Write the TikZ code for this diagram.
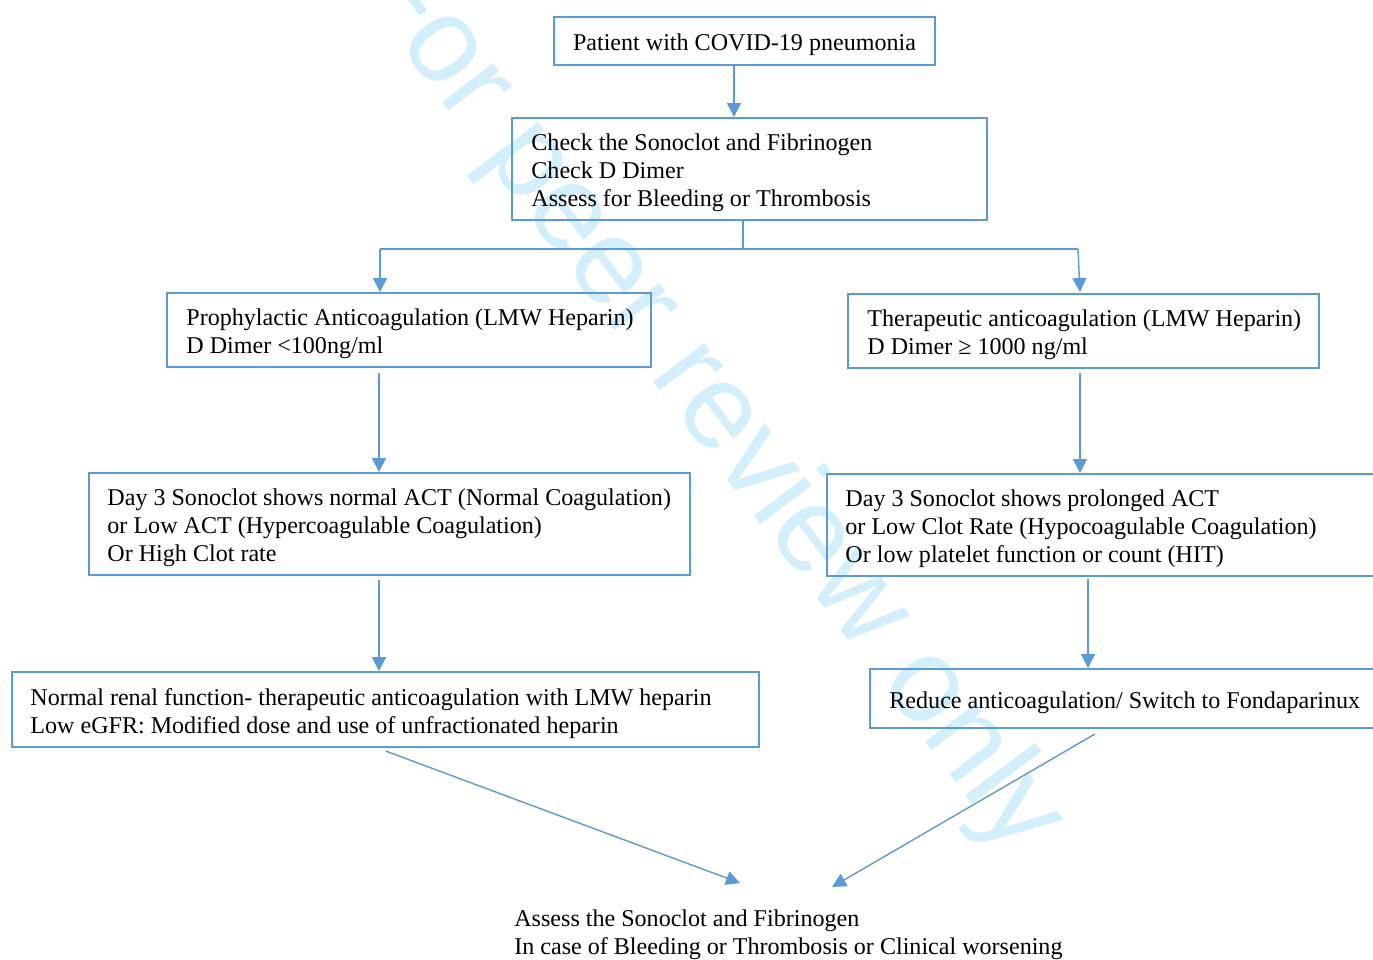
\documentclass[tikz,border=0pt]{standalone}
\usepackage{fontspec}
\setmainfont{Liberation Serif}
\newfontfamily\wmfont{Liberation Sans}
\usetikzlibrary{arrows.meta, positioning}
\definecolor{fblue}{HTML}{5B9BD5}
\definecolor{fwater}{HTML}{D3EFFB}
\tikzset{
  box/.style={rectangle, draw=fblue, line width=1.1pt},
  txt/.style={anchor=west, inner sep=0pt, align=left, text=black, yshift=-0.08cm,
              font=\fontsize{13.7}{15.9}\selectfont},
  flow/.style={-{Triangle[length=0.28cm, width=0.28cm]}, draw=fblue, line width=0.8pt},
  link/.style={draw=fblue, line width=0.8pt},
  wmark/.style={text=fwater, font=\wmfont\fontsize{69}{80}\selectfont, rotate=-53}
}

\begin{document}
\begin{tikzpicture}[x=0.02cm, y=-0.02cm]
  \useasboundingbox (0,0) rectangle (1373,960);
  \clip (0,0) rectangle (1373,960);
  \node[wmark] (wm) at (708,402) {For peer review only};

  \node[box, minimum width=7.62cm, minimum height=0.96cm] (pat) at (744.5,41) {};
  \node[box, minimum width=9.5cm, minimum height=2.04cm] (chk) at (749.5,169) {};
  \node[box, minimum width=9.68cm, minimum height=1.48cm] (pro) at (409,330) {};
  \node[box, minimum width=9.42cm, minimum height=1.48cm] (ther) at (1083.5,331) {};
  \node[box, minimum width=12.02cm, minimum height=2.04cm] (d3l) at (389.5,524) {};
  \node[box, minimum width=11.16cm, minimum height=2.04cm] (d3r) at (1106,525) {};
  \node[box, minimum width=14.94cm, minimum height=1.5cm] (norm) at (385.5,709.5) {};
  \node[box, minimum width=10.3cm, minimum height=1.18cm] (red) at (1127.5,698.5) {};

  \node[txt, anchor=center] (pat-t) at (pat.center) {Patient with COVID-19 pneumonia};
  \node[txt, right=0.4cm of chk.west] (chk-t) {Check the Sonoclot and Fibrinogen\\Check D Dimer\\Assess for Bleeding or Thrombosis};
  \node[txt, right=0.4cm of pro.west] (pro-t) {Prophylactic Anticoagulation (LMW Heparin)\\D Dimer <100ng/ml};
  \node[txt, right=0.4cm of ther.west] (ther-t) {Therapeutic anticoagulation (LMW Heparin)\\D Dimer ≥ 1000 ng/ml};
  \node[txt, right=0.38cm of d3l.west] (d3l-t) {Day 3 Sonoclot shows normal ACT (Normal Coagulation)\\or Low ACT (Hypercoagulable Coagulation)\\Or High Clot rate};
  \node[txt, right=0.38cm of d3r.west] (d3r-t) {Day 3 Sonoclot shows prolonged ACT\\or Low Clot Rate (Hypocoagulable Coagulation)\\Or low platelet function or count (HIT)};
  \node[txt, right=0.38cm of norm.west] (norm-t) {Normal renal function- therapeutic anticoagulation with LMW heparin\\Low eGFR: Modified dose and use of unfractionated heparin};
  \node[txt, right=0.4cm of red.west] (red-t) {Reduce anticoagulation/ Switch to Fondaparinux};
  \node[txt] (ass) at (514,931) {Assess the Sonoclot and Fibrinogen\\In case of Bleeding or Thrombosis or Clinical worsening};

  \coordinate (split) at (743,249);
  \coordinate (sl) at (380,249);
  \coordinate (sr) at (1078,249);
  \coordinate (a1) at (740,883);
  \coordinate (a2) at (832,887);

  \draw[flow] (pat.south -| 734,0) -- (chk.north -| 734,0);
  \draw[link] (chk.south -| split) -- (split);
  \draw[link] (sl) -- (sr);
  \draw[flow] (sl) -- (pro.north -| sl);
  \draw[flow] (sr) -- ([yshift=0.02cm]ther.north -| 1080,0);
  \draw[flow] ([yshift=-0.1cm]pro.south -| 379,0) -- (d3l.north -| 379,0);
  \draw[flow] ([yshift=-0.08cm]ther.south -| 1080,0) -- (d3r.north -| 1080,0);
  \draw[flow] ([yshift=-0.08cm]d3l.south -| 379,0) -- (norm.north -| 379,0);
  \draw[flow] ([yshift=-0.04cm]d3r.south -| 1088,0) -- (red.north -| 1088,0);
  \draw[flow] ([yshift=-0.06cm]norm.south) -- (a1);
  \draw[flow] ([xshift=-0.65cm, yshift=-0.1cm]red.south) -- (a2);
\end{tikzpicture}
\end{document}
